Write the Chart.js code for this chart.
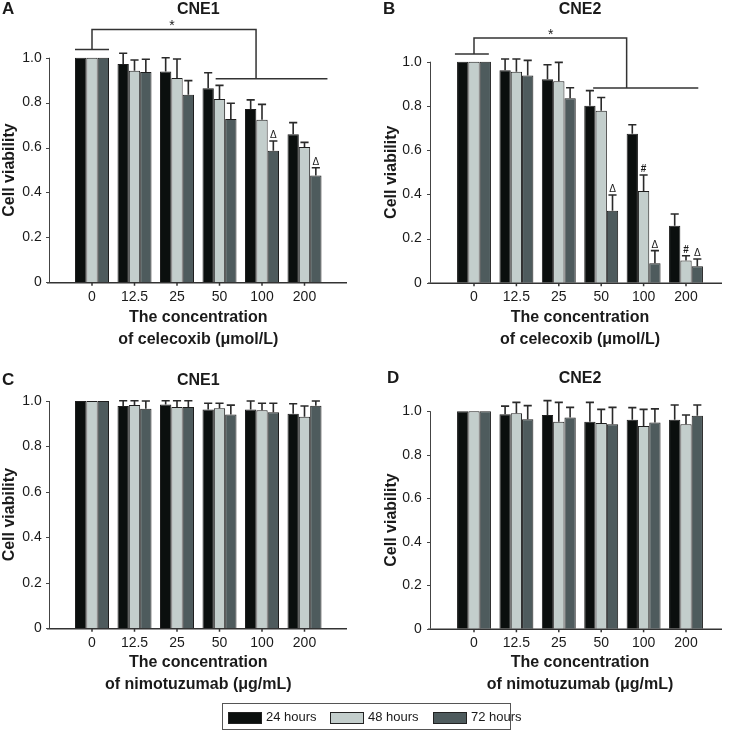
<!DOCTYPE html>
<html>
<head>
<meta charset="utf-8">
<script src="https://cdn.jsdelivr.net/npm/chart.js@4.4.1/dist/chart.umd.min.js"></script>
<style>
  body { margin: 0; background: #fff; width: 730px; height: 731px; position: relative; overflow: hidden;
         font-family: "Liberation Sans", Arial, sans-serif; color: #1a1a1a; }
  canvas { position: absolute; }
  #legend { position: absolute; left: 222px; top: 703px; width: 287px; height: 25px; border: 1px solid #555; font-size: 13px; }
  #legend .sw { position: absolute; top: 8px; width: 32px; height: 10px; border: 1px solid #222; }
  #legend .lb { position: absolute; top: 5px; line-height: 15px; white-space: nowrap; }
</style>
</head>
<body>
<canvas id="chartA" width="365" height="352" style="left:0;top:0"></canvas>
<canvas id="chartB" width="365" height="352" style="left:365px;top:0"></canvas>
<canvas id="chartC" width="365" height="352" style="left:0;top:352px"></canvas>
<canvas id="chartD" width="365" height="352" style="left:365px;top:352px"></canvas>
<div id="legend"></div>

<script>
// categories / labels
const concentrations = ['0', '12.5', '25', '50', '100', '200'];
const seriesNames = ['24 hours', '48 hours', '72 hours'];
const yTickLabels = ['0', '0.2', '0.4', '0.6', '0.8', '1.0'];
const barColors = ['#0b0f0e', '#c3cecc', '#4e5b5d'];

// A: CNE1 + celecoxib
const a24 = [1.0, 0.972, 0.939, 0.864, 0.772, 0.659];
const a48 = [1.0, 0.942, 0.910, 0.816, 0.724, 0.602];
const a72 = [1.0, 0.936, 0.835, 0.727, 0.586, 0.475];
const a24Err = [0, 0.048, 0.061, 0.069, 0.040, 0.052];
const a48Err = [0, 0.048, 0.084, 0.061, 0.068, 0.021];
const a72Err = [0, 0.057, 0.063, 0.070, 0.043, 0.035];

// B: CNE2 + celecoxib
const b24 = [1.0, 0.961, 0.921, 0.801, 0.674, 0.258];
const b48 = [1.0, 0.955, 0.911, 0.778, 0.415, 0.101];
const b72 = [1.0, 0.937, 0.835, 0.326, 0.088, 0.074];
const b24Err = [0, 0.051, 0.065, 0.068, 0.041, 0.053];
const b48Err = [0, 0.057, 0.086, 0.060, 0.072, 0.021];
const b72Err = [0, 0.069, 0.047, 0.071, 0.057, 0.033];

// C: CNE1 + nimotuzumab
const c24 = [1.0, 0.978, 0.985, 0.963, 0.963, 0.944];
const c48 = [1.0, 0.982, 0.974, 0.968, 0.959, 0.931];
const c72 = [1.0, 0.966, 0.974, 0.941, 0.950, 0.979];
const c24Err = [0, 0.023, 0.016, 0.027, 0.037, 0.044];
const c48Err = [0, 0.019, 0.027, 0.022, 0.031, 0.047];
const c72Err = [0, 0.034, 0.027, 0.041, 0.040, 0.021];

// D: CNE2 + nimotuzumab
const d24 = [1.0, 0.986, 0.983, 0.952, 0.961, 0.961];
const d48 = [1.0, 0.991, 0.952, 0.946, 0.932, 0.940];
const d72 = [1.0, 0.963, 0.972, 0.940, 0.949, 0.980];
const d24Err = [0, 0.038, 0.066, 0.089, 0.056, 0.068];
const d48Err = [0, 0.050, 0.089, 0.063, 0.077, 0.043];
const d72Err = [0, 0.063, 0.046, 0.078, 0.062, 0.049];

// significance marks: [series, category, symbol]
const aMarks = [[2, 4, 'Δ'], [2, 5, 'Δ']];
const bMarks = [[2, 3, 'Δ'], [1, 4, '#'], [2, 4, 'Δ'], [1, 5, '#'], [2, 5, 'Δ']];

Chart.defaults.font.family = '"Liberation Sans", Arial, sans-serif';
Chart.defaults.color = '#1a1a1a';

const FONT = '"Liberation Sans", Arial, sans-serif';
const LINE = '#333';

function panelPlugin(p) {
  return {
    id: 'panel' + p.letter,
    afterDatasetsDraw(chart) {
      const ctx = chart.ctx;
      const xs = chart.scales.x, ys = chart.scales.y;
      const area = chart.chartArea;
      ctx.save();
      // baseline, wider than the plot like the original
      ctx.strokeStyle = LINE;
      ctx.lineWidth = 1.5;
      ctx.beginPath();
      ctx.moveTo(area.left - p.extL, area.bottom + 0.5);
      ctx.lineTo(area.right + p.extR, area.bottom + 0.5);
      // small ticks under each category
      xs.ticks.forEach((t, i) => {
        const x = xs.getPixelForTick(i);
        ctx.moveTo(x, area.bottom);
        ctx.lineTo(x, area.bottom + 3.5);
      });
      ctx.stroke();

      // y axis line with short ticks to the left
      const axX = Math.round(area.left - p.extL + 2) + 0.5;
      ctx.lineWidth = 1;
      ctx.strokeStyle = '#444';
      ctx.beginPath();
      ctx.moveTo(axX, ys.getPixelForValue(0));
      ctx.lineTo(axX, ys.getPixelForValue(1));
      ys.ticks.forEach((t, i) => {
        const y = Math.round(ys.getPixelForTick(i)) + 0.5;
        ctx.moveTo(axX, y);
        ctx.lineTo(axX - 3.5, y);
      });
      ctx.stroke();

      // error bars (upper half only)
      ctx.strokeStyle = '#2a2a2a';
      ctx.lineWidth = 1.6;
      chart.data.datasets.forEach((ds, di) => {
        const meta = chart.getDatasetMeta(di);
        meta.data.forEach((bar, i) => {
          const e = ds.errors[i];
          if (!e) return;
          const yTop = ys.getPixelForValue(ds.data[i] + e);
          const half = bar.width * 0.36;
          ctx.beginPath();
          ctx.moveTo(bar.x, bar.y);
          ctx.lineTo(bar.x, yTop);
          ctx.moveTo(bar.x - half, yTop);
          ctx.lineTo(bar.x + half, yTop);
          ctx.stroke();
        });
      });

      // Δ / # marks above the error caps
      ctx.fillStyle = '#1a1a1a';
      ctx.textAlign = 'center';
      ctx.textBaseline = 'alphabetic';
      (p.marks || []).forEach(([di, i, sym]) => {
        const ds = chart.data.datasets[di];
        const bar = chart.getDatasetMeta(di).data[i];
        const yTop = ys.getPixelForValue(ds.data[i] + ds.errors[i]);
        ctx.font = (sym === '#' ? 'bold 10px ' : '10px ') + FONT;
        ctx.fillText(sym, bar.x, yTop - 3);
      });

      // bracket with star
      const b = p.bracket;
      if (b) {
        const px = v => xs.getPixelForValue(v);
        const py = v => ys.getPixelForValue(v);
        ctx.strokeStyle = LINE;
        ctx.lineWidth = 1.5;
        ctx.beginPath();
        ctx.moveTo(px(b.groupFrom), py(b.groupY));
        ctx.lineTo(px(b.groupTo), py(b.groupY));
        ctx.moveTo(px(0), py(b.groupY));
        ctx.lineTo(px(0), py(b.topY));
        ctx.lineTo(px(b.dropX), py(b.topY));
        ctx.lineTo(px(b.dropX), py(b.lowY));
        ctx.moveTo(px(b.lowFrom), py(b.lowY));
        ctx.lineTo(px(b.lowTo), py(b.lowY));
        ctx.stroke();
        ctx.font = '14px ' + FONT;
        ctx.fillText('*', px(b.starX), py(b.topY) + 1);
      }

      // panel letter and title
      ctx.textBaseline = 'middle';
      ctx.font = 'bold 17px ' + FONT;
      ctx.textAlign = 'left';
      ctx.fillText(p.letter, p.letterX, p.letterY);
      ctx.font = 'bold 16px ' + FONT;
      ctx.textAlign = 'center';
      ctx.fillText(p.title, (area.left + area.right) / 2, p.letterY + 1);
      ctx.restore();
    }
  };
}

function makePanel(id, p) {
  const canvasH = 352;
  const datasets = p.values.map((vals, k) => ({
    label: seriesNames[k],
    data: vals,
    errors: p.errors[k],
    backgroundColor: barColors[k],
    borderColor: '#1e1e1e',
    borderWidth: 1,
    categoryPercentage: 0.8,
    barPercentage: 1.0,
    clip: false
  }));
  return new Chart(document.getElementById(id), {
    type: 'bar',
    data: { labels: concentrations, datasets },
    options: {
      responsive: false,
      animation: false,
      layout: { padding: { top: p.top, right: p.right, bottom: 0, left: 0 } },
      plugins: { legend: { display: false }, tooltip: { enabled: false } },
      scales: {
        x: {
          grid: { display: false, drawTicks: false },
          border: { display: false },
          ticks: { font: { size: 14 }, padding: 6.3, color: '#1a1a1a', maxRotation: 0 },
          title: {
            display: true,
            text: ['The concentration', p.xTitle],
            font: { size: 16, weight: 'bold', lineHeight: 1.4 },
            color: '#1a1a1a',
            padding: { top: 0, bottom: p.titleBottom }
          },
          afterFit(scale) { scale.height = canvasH - p.bottom; }
        },
        y: {
          min: 0, max: 1.0,
          grid: { display: false, drawTicks: false },
          border: { display: false },
          ticks: {
            stepSize: 0.2,
            font: { size: 14 },
            color: '#1a1a1a',
            padding: p.yPad,
            callback: (v, i) => yTickLabels[i]
          },
          title: {
            display: true,
            text: 'Cell viability',
            font: { size: 16, weight: 'bold' },
            color: '#1a1a1a',
            padding: { top: p.yTitlePad, bottom: 0 }
          },
          afterFit(scale) { scale.width = p.left; }
        }
      }
    },
    plugins: [panelPlugin(p)]
  });
}

makePanel('chartA', {
  letter: 'A', title: 'CNE1', letterX: 2, letterY: 9,
  values: [a24, a48, a72], errors: [a24Err, a48Err, a72Err], marks: aMarks,
  bracket: { groupFrom: -0.4, groupTo: 0.4, groupY: 1.037, topY: 1.126, dropX: 3.86,
             lowFrom: 2.91, lowTo: 5.54, lowY: 0.906, starX: 1.88 },
  xTitle: 'of celecoxib (μmol/L)',
  left: 70.75, right: 39.25, top: 57.7, bottom: 282.3,
  yPad: 29, yTitlePad: 0.4, titleBottom: 0.8, extL: 23.75, extR: 21.25
});

makePanel('chartB', {
  letter: 'B', title: 'CNE2', letterX: 18, letterY: 9,
  values: [b24, b48, b72], errors: [b24Err, b48Err, b72Err], marks: bMarks,
  bracket: { groupFrom: -0.45, groupTo: 0.35, groupY: 1.035, topY: 1.107, dropX: 3.6,
             lowFrom: 2.81, lowTo: 5.29, lowY: 0.881, starX: 1.81 },
  xTitle: 'of celecoxib (μmol/L)',
  left: 87.8, right: 22.8, top: 61.7, bottom: 282.7,
  yPad: 31, yTitlePad: 17.4, titleBottom: 0.8, extL: 24.8, extR: 14.8
});

makePanel('chartC', {
  letter: 'C', title: 'CNE1', letterX: 2, letterY: 28,
  values: [c24, c48, c72], errors: [c24Err, c48Err, c72Err],
  xTitle: 'of nimotuzumab (μg/mL)',
  left: 70.75, right: 39.25, top: 49, bottom: 276.3,
  yPad: 29, yTitlePad: 0.4, titleBottom: 7.8, extL: 23.75, extR: 21.25
});

makePanel('chartD', {
  letter: 'D', title: 'CNE2', letterX: 22, letterY: 26,
  values: [d24, d48, d72], errors: [d24Err, d48Err, d72Err],
  xTitle: 'of nimotuzumab (μg/mL)',
  left: 87.8, right: 22.8, top: 59.3, bottom: 276.7,
  yPad: 31, yTitlePad: 17.4, titleBottom: 7.8, extL: 24.8, extR: 14.8
});

// shared legend under the panels
const legend = document.getElementById('legend');
const swatchX = [5, 107, 210];
seriesNames.forEach((name, k) => {
  const sw = document.createElement('div');
  sw.className = 'sw';
  sw.style.left = swatchX[k] + 'px';
  sw.style.background = barColors[k];
  legend.appendChild(sw);
  const lb = document.createElement('div');
  lb.className = 'lb';
  lb.style.left = (swatchX[k] + 38) + 'px';
  lb.textContent = name;
  legend.appendChild(lb);
});
</script>
</body>
</html>
